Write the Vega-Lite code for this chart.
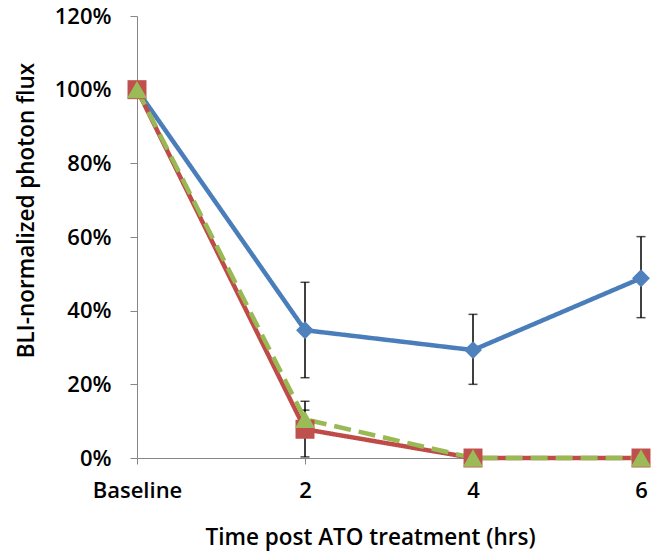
{
  "$schema": "https://vega.github.io/schema/vega-lite/v6.json",
  "autosize": "none",
  "width": 504,
  "height": 442,
  "padding": {"left": 137, "top": 16, "right": 17, "bottom": 98},
  "background": "white",
  "config": {
    "view": {"stroke": null},
    "font": "Open Sans",
    "axis": {
      "grid": false,
      "domainColor": "#878787",
      "tickColor": "#878787",
      "domainWidth": 1,
      "tickWidth": 1,
      "labelFont": "Open Sans",
      "labelFontSize": 22,
      "labelFontWeight": 600,
      "labelColor": "#000000",
      "titleFont": "Open Sans",
      "titleFontSize": 22.5,
      "titleFontWeight": 600,
      "titleColor": "#000000"
    }
  },
  "data": {
    "values": [
      {"series": "Series 1", "time": "Baseline", "value": 1.0, "lo": null, "hi": null},
      {"series": "Series 1", "time": "2", "value": 0.347, "lo": 0.218, "hi": 0.477},
      {"series": "Series 1", "time": "4", "value": 0.293, "lo": 0.200, "hi": 0.390},
      {"series": "Series 1", "time": "6", "value": 0.488, "lo": 0.381, "hi": 0.601},
      {"series": "Series 2", "time": "Baseline", "value": 1.0, "lo": null, "hi": null},
      {"series": "Series 2", "time": "2", "value": 0.078, "lo": 0.003, "hi": 0.154},
      {"series": "Series 2", "time": "4", "value": 0.0, "lo": null, "hi": null},
      {"series": "Series 2", "time": "6", "value": 0.0, "lo": null, "hi": null},
      {"series": "Series 3", "time": "Baseline", "value": 1.0, "lo": null, "hi": null},
      {"series": "Series 3", "time": "2", "value": 0.105, "lo": 0.080, "hi": 0.130},
      {"series": "Series 3", "time": "4", "value": 0.0, "lo": null, "hi": null},
      {"series": "Series 3", "time": "6", "value": 0.0, "lo": null, "hi": null}
    ]
  },
  "encoding": {
    "x": {
      "field": "time",
      "type": "ordinal",
      "sort": ["Baseline", "2", "4", "6"],
      "scale": {"type": "point", "padding": 0},
      "axis": {
        "labelAngle": 0,
        "tickSize": 6,
        "labelPadding": 16,
        "title": "Time post ATO treatment (hrs)",
        "titleX": 233,
        "titleY": 86,
        "titleAlign": "center",
        "titleBaseline": "alphabetic",
        "titleAnchor": null
      }
    },
    "y": {
      "field": "value",
      "type": "quantitative",
      "scale": {"domain": [0, 1.2], "nice": false, "zero": true},
      "axis": {
        "values": [0, 0.2, 0.4, 0.6, 0.8, 1.0, 1.2],
        "format": ".0%",
        "tickSize": 7,
        "labelPadding": 19,
        "title": "BLI-normalized photon flux",
        "titleAngle": 270,
        "titleX": -104,
        "titleY": 194,
        "titleAlign": "center",
        "titleBaseline": "alphabetic",
        "titleAnchor": null
      }
    }
  },
  "layer": [
    {
      "transform": [{"filter": "datum.lo != null"}],
      "mark": {"type": "rule", "color": "#000000", "strokeWidth": 1.5},
      "encoding": {
        "y": {"field": "lo", "type": "quantitative"},
        "y2": {"field": "hi"}
      }
    },
    {
      "transform": [{"filter": "datum.lo != null"}],
      "mark": {"type": "tick", "color": "#000000", "thickness": 1.5, "size": 9, "orient": "horizontal"},
      "encoding": {"y": {"field": "lo", "type": "quantitative"}}
    },
    {
      "transform": [{"filter": "datum.lo != null"}],
      "mark": {"type": "tick", "color": "#000000", "thickness": 1.5, "size": 9, "orient": "horizontal"},
      "encoding": {"y": {"field": "hi", "type": "quantitative"}}
    },
    {
      "mark": {"type": "line", "strokeWidth": 4.5, "strokeCap": "butt", "strokeJoin": "round"},
      "encoding": {
        "color": {
          "field": "series",
          "type": "nominal",
          "scale": {"domain": ["Series 1", "Series 2", "Series 3"], "range": ["#4A7EBB", "#BE4B48", "#98B954"]},
          "legend": null
        },
        "strokeDash": {
          "field": "series",
          "type": "nominal",
          "scale": {"domain": ["Series 1", "Series 2", "Series 3"], "range": [[1, 0], [1, 0], [17, 8]]},
          "legend": null
        }
      }
    },
    {
      "mark": {"type": "point", "filled": true, "opacity": 1, "strokeWidth": 0},
      "encoding": {
        "color": {
          "field": "series",
          "type": "nominal",
          "scale": {"domain": ["Series 1", "Series 2", "Series 3"], "range": ["#4F81BD", "#C0504D", "#9BBB59"]},
          "legend": null
        },
        "shape": {
          "field": "series",
          "type": "nominal",
          "scale": {"domain": ["Series 1", "Series 2", "Series 3"], "range": ["diamond", "square", "triangle-up"]},
          "legend": null
        },
        "size": {
          "field": "series",
          "type": "nominal",
          "scale": {"domain": ["Series 1", "Series 2", "Series 3"], "range": [320, 400, 270]},
          "legend": null
        }
      }
    }
  ],
  "resolve": {"scale": {"color": "independent"}}
}
